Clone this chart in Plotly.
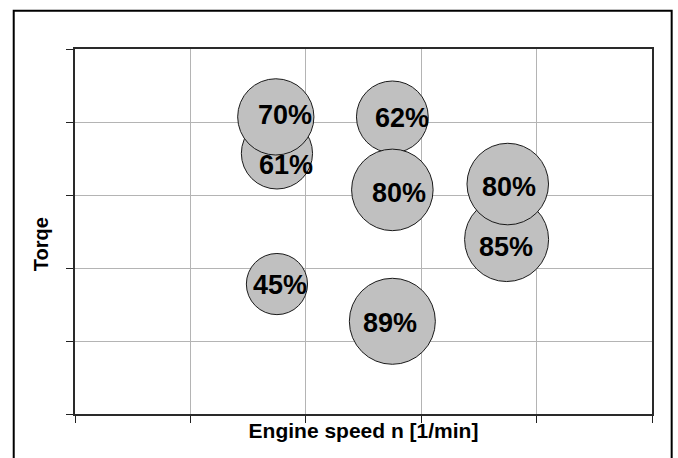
import plotly.graph_objects as go

# Data (drawing order matters: later bubbles sit on top)
labels = ["61%", "70%", "62%", "80%", "85%", "80%", "45%", "89%"]
engine_speed = [1.75, 1.74, 2.75, 2.75, 3.74, 3.75, 1.75, 2.75]
torque = [3.57, 4.07, 4.07, 3.07, 2.39, 3.15, 1.78, 1.27]
efficiency = [61, 70, 62, 80, 85, 80, 45, 89]
x_title = "Engine speed n [1/min]"
y_title = "Torqe"

# label fine offsets in px (styling only)
label_xshift = [9, 9, 10, 7, -1, 1, 3, -2]
label_yshift = [-12, 2, -1, -3, -7, -3, -1, -2]

max_diam = 86
sizeref = 2.0 * max(efficiency) / max_diam ** 2

fig = go.Figure()
fig.add_trace(go.Scatter(
    x=engine_speed, y=torque, mode="markers",
    marker=dict(size=efficiency, sizemode="area", sizeref=sizeref,
                color="#C0C0C0", opacity=1,
                line=dict(color="#1a1a1a", width=1)),
    hoverinfo="skip", showlegend=False,
))

for xv, yv, lab, dx, dy in zip(engine_speed, torque, labels, label_xshift, label_yshift):
    fig.add_annotation(x=xv, y=yv, text="<b>%s</b>" % lab, showarrow=False,
                       xshift=dx, yshift=dy,
                       font=dict(family="Liberation Sans, Arial", size=27, color="black"))

fig.add_annotation(xref="paper", yref="paper", x=-0.059, y=0.465,
                   xanchor="center", yanchor="middle",
                   text="<b>%s</b>" % y_title, textangle=-90, showarrow=False,
                   font=dict(family="Liberation Sans, Arial", size=20, color="black"))

axis_common = dict(
    range=[0, 5], dtick=1, tick0=0, showticklabels=False,
    ticks="outside", ticklen=7, tickcolor="#222", tickwidth=1,
    showgrid=True, gridcolor="#b4b4b4", gridwidth=1,
    showline=True, linecolor="#2a2a2a", linewidth=1.5, mirror=True,
    zeroline=False, fixedrange=True,
)

fig.update_layout(
    width=678, height=458,
    margin=dict(l=75, r=26, t=49, b=44),
    paper_bgcolor="white", plot_bgcolor="white",
    xaxis=dict(**axis_common,
               title=dict(text="<b>%s</b>" % x_title, standoff=2,
                          font=dict(family="Liberation Sans, Arial", size=21, color="black"))),
    yaxis=dict(**axis_common),
    shapes=[dict(type="rect", xref="paper", yref="paper",
                 x0=-0.1062, x1=1.0341, y0=-0.3, y1=1.105,
                 line=dict(color="black", width=2), fillcolor="rgba(0,0,0,0)")],
)

fig.write_html("out.html", config={"displayModeBar": False},
               post_script="document.body.style.margin='0';document.body.style.overflow='hidden';")
